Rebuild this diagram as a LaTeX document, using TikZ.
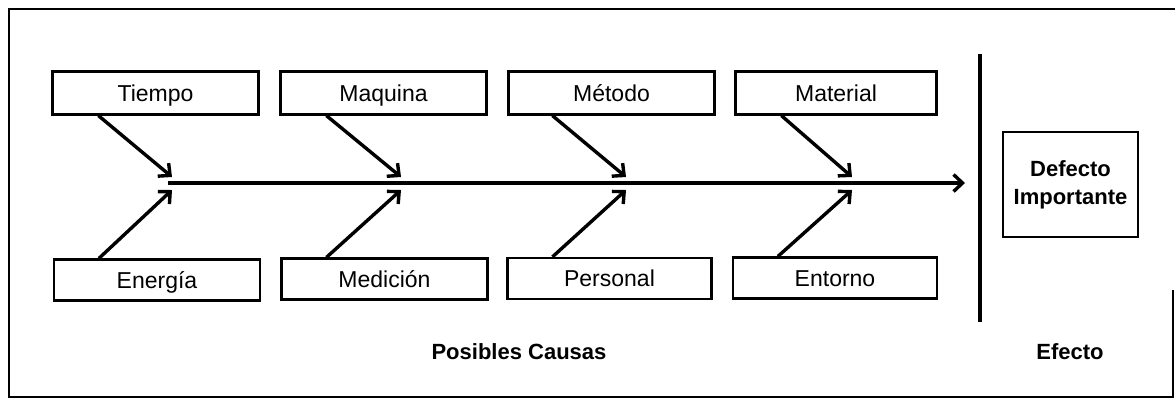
\documentclass[tikz,border=0pt]{standalone}
\usepackage{fontspec}
\setmainfont{Liberation Sans}
\usetikzlibrary{arrows.meta,calc}
\begin{document}
\begin{tikzpicture}[x=1pt,y=-1pt,
  cause/.style={draw,line width=2.2pt,minimum width=206pt,minimum height=43pt,inner sep=0pt,
    text height=18pt,text depth=2pt,font=\fontsize{23}{27}\selectfont},
  bone/.style={line width=3.4pt,-{Straight Barb[length=9pt,width=17pt]}},
  lbl/.style={font=\fontsize{22}{26}\selectfont\bfseries}]
\useasboundingbox (0,0) rectangle (1175,400);
% frame
\draw[line width=2.6pt] (1173,290) -- (1173,397) -- (9,397) -- (9,9) -- (1175,9);
% cause boxes
\node[cause] (tiempo)   at (155.5,93) {Tiempo};
\node[cause] (maquina)  at (383.5,93) {Maquina};
\node[cause] (metodo)   at (611.5,93) {Método};
\node[cause,minimum width=201pt] (material) at (836,93) {Material};
\node[cause,minimum height=41pt] (energia)  at (157,280) {Energía};
\node[cause,minimum height=41pt] (medicion) at (384.5,279) {Medición};
\node[cause,minimum height=41pt,minimum width=204pt] (personal) at (609.5,278.5) {Personal};
\node[cause,minimum height=41pt,minimum width=204pt] (entorno)  at (835,278) {Entorno};
% spine
\coordinate (s0) at (168,183);
\coordinate (s1) at (965,183);
\draw[bone] (s0) -- (s1);
% joint points
\coordinate (j1t) at (172,177); \coordinate (j1b) at (172,190);
\coordinate (j2t) at (401,177); \coordinate (j2b) at (401,190);
\coordinate (j3t) at (626,177); \coordinate (j3b) at (626,190);
\coordinate (j4t) at (852,177); \coordinate (j4b) at (852,190);
\draw[bone] ($(tiempo.south west)+(47,0)$) -- (j1t);
\draw[bone] ($(maquina.south west)+(47,0)$) -- (j2t);
\draw[bone] ($(metodo.south west)+(45,0)$) -- (j3t);
\draw[bone] ($(material.south west)+(47,0)$) -- (j4t);
\draw[bone] ($(energia.north west)+(46,0)$) -- (j1b);
\draw[bone] ($(medicion.north west)+(46,0)$) -- (j2b);
\draw[bone] ($(personal.north west)+(46,0)$) -- (j3b);
\draw[bone] ($(entorno.north west)+(46,0)$) -- (j4b);
% separator
\coordinate (v0) at (980,54);
\coordinate (v1) at (980,322);
\draw[line width=4.2pt] (v0) -- (v1);
% effect
\node[draw,line width=2.2pt,minimum width=135pt,minimum height=105pt,align=center,
  font=\fontsize{22}{28}\selectfont\bfseries] (defecto) at (1070.5,184.5) {Defecto\\Importante};
\node[lbl] (causas) at (519,352) {Posibles Causas};
\node[lbl] (efecto) at (1070,352) {Efecto};
\end{tikzpicture}
\end{document}
